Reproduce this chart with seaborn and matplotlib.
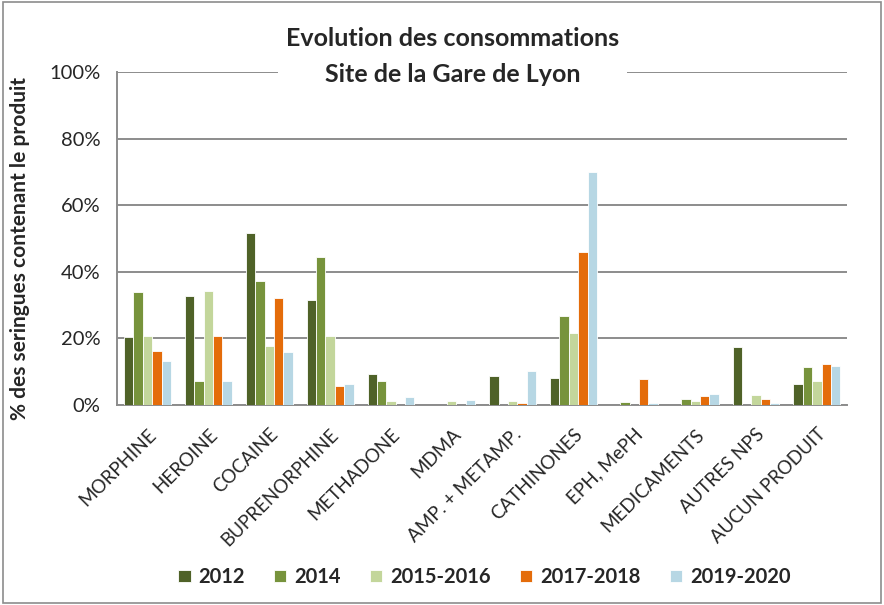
import pandas as pd
import matplotlib.pyplot as plt
import seaborn as sns
from matplotlib.patches import Rectangle

produits = ['MORPHINE', 'HEROINE', 'COCAINE', 'BUPRENORPHINE', 'METHADONE', 'MDMA',
            'AMP. + METAMP.', 'CATHINONES', 'EPH, MePH', 'MEDICAMENTS', 'AUTRES NPS',
            'AUCUN PRODUIT']
periodes = ['2012', '2014', '2015-2016', '2017-2018', '2019-2020']

v2012 = [20.4, 32.8, 51.6, 31.6, 9.2, 0.0, 8.5, 8.0, 0.0, 0.0, 17.4, 6.2]
v2014 = [33.9, 7.1, 37.3, 44.5, 7.1, 0.0, 0.0, 26.8, 0.8, 1.6, 0.0, 11.3]
v2015 = [20.6, 34.2, 17.6, 20.7, 1.1, 1.1, 1.1, 21.6, 0.0, 1.1, 2.9, 7.1]
v2017 = [16.3, 20.7, 32.1, 5.5, 0.0, 0.0, 0.4, 45.9, 7.6, 2.7, 1.6, 12.1]
v2019 = [13.0, 7.1, 15.8, 6.2, 2.2, 1.3, 10.1, 69.8, 0.4, 3.2, 0.4, 11.6]

couleurs = ['#4F6228', '#77933C', '#C3D69B', '#E46C0A', '#B7D7E4']

rows = []
for per, vals in zip(periodes, [v2012, v2014, v2015, v2017, v2019]):
    for p, v in zip(produits, vals):
        rows.append({'produit': p, 'periode': per, 'valeur': v})
df = pd.DataFrame(rows)

sns.set_style('white')
plt.rcParams['font.family'] = ['Lato', 'DejaVu Sans']

fig = plt.figure(figsize=(8.84, 6.05), dpi=100)
ax = fig.add_axes([0.1325, 0.331, 0.826, 0.55])

sns.barplot(data=df, x='produit', y='valeur', hue='periode', order=produits,
            hue_order=periodes, palette=couleurs, saturation=1, width=0.77, ax=ax,
            edgecolor='white', linewidth=0.6, zorder=3)

ax.set_ylim(0, 100)
ax.set_xlim(-0.5, len(produits) - 0.5)
ax.set_yticks(range(0, 101, 20))
ax.set_yticklabels([f'{t}%' for t in range(0, 101, 20)], fontsize=14.5)
ax.yaxis.grid(True, color='#8c8c8c', linewidth=1.4, zorder=0)
ax.set_axisbelow(True)

ax.set_xticks(range(len(produits)))
ax.set_xticklabels(produits, rotation=45, ha='right', rotation_mode='anchor', fontsize=13.5)
ax.tick_params(axis='x', which='major', length=0, pad=15)
ax.set_xticks([i + 0.5 for i in range(-1, len(produits))], minor=True)
ax.tick_params(axis='x', which='minor', length=7, width=1.4, color='#8c8c8c', direction='out')
ax.tick_params(axis='y', length=7, width=1.4, color='#8c8c8c', direction='out', pad=5)

for s in ['top', 'right']:
    ax.spines[s].set_visible(False)
for s in ['left', 'bottom']:
    ax.spines[s].set_color('#8c8c8c')
    ax.spines[s].set_linewidth(1.4)

ax.set_xlabel('')
ax.set_ylabel('% des seringues contenant le produit', fontsize=15, fontweight='bold')
ax.yaxis.set_label_coords(-0.119, 0.47)

# white box behind the title, cutting the 100% gridline
fig.add_artist(Rectangle((278 / 884, 1 - 90 / 605), 349 / 884, 32 / 605,
                         transform=fig.transFigure, facecolor='white',
                         edgecolor='none', zorder=2))
fig.text(0.512, 1 - 38 / 605, 'Evolution des consommations', ha='center', va='center',
         fontsize=18, fontweight='bold', zorder=4)
fig.text(0.512, 1 - 74 / 605, 'Site de la Gare de Lyon', ha='center', va='center',
         fontsize=18, fontweight='bold', zorder=4)

leg = ax.legend(loc='center', bbox_to_anchor=(0.548, 0.046), bbox_transform=fig.transFigure,
                ncol=5, frameon=False, fontsize=14.5, handlelength=0.6, handleheight=0.6,
                columnspacing=1.45, handletextpad=0.4)
for t in leg.get_texts():
    t.set_fontweight('bold')

fig.patches.append(Rectangle((0.003, 0.003), 0.994, 0.994, transform=fig.transFigure,
                             fill=False, edgecolor='#8c8c8c', linewidth=1.2))

fig.savefig('out.png', dpi=100)
